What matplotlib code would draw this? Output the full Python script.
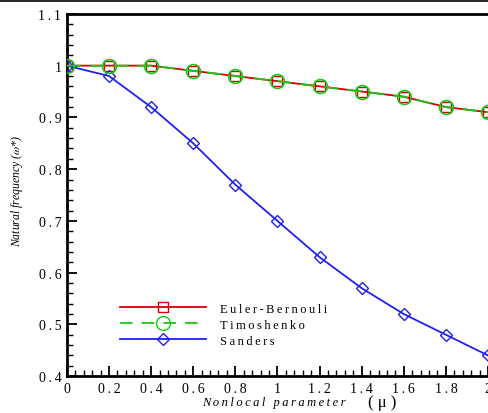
import numpy as np
import matplotlib
matplotlib.use('Agg')
import matplotlib.pyplot as plt
from matplotlib.ticker import MultipleLocator, FuncFormatter
from matplotlib.lines import Line2D

plt.rcParams['font.family'] = ['Liberation Serif', 'DejaVu Serif']
plt.rcParams['mathtext.fontset'] = 'stix'

# data
mu = [0, 0.2, 0.4, 0.6, 0.8, 1.0, 1.2, 1.4, 1.6, 1.8, 2.0]
euler = [1.0, 1.0, 1.0, 0.99, 0.98, 0.97, 0.96, 0.95, 0.94, 0.92, 0.91]
timo = [1.0, 1.0, 1.0, 0.99, 0.98, 0.97, 0.96, 0.95, 0.94, 0.92, 0.91]
sanders = [1.0, 0.98, 0.92, 0.85, 0.77, 0.70, 0.63, 0.57, 0.52, 0.48, 0.44]
labels = ["Euler-Bernouli", "Timoshenko", "Sanders"]


def spaced(s):
    return "\u2009".join(s)


fig = plt.figure(figsize=(4.88, 4.14), dpi=100)
ax = fig.add_axes([0.137, 0.089, 0.863, 0.875])

ax.plot(mu, euler, color='#d40000', lw=1.3, marker='s', ms=7,
        mfc='none', mec='#d40000', mew=1.0, zorder=3)
ax.plot(mu, timo, color='#18c818', lw=1.3, ls=(0, (8, 5)), marker='o',
        ms=10, mfc='none', mec='#18c818', mew=1.2, zorder=4)
ax.plot(mu, sanders, color='#2020f0', lw=1.3, marker='D', ms=6.5,
        mfc='none', mec='#2020f0', mew=1.0, zorder=3)

ax.set_xlim(0, 2)
ax.set_ylim(0.4, 1.1)
ax.xaxis.set_major_locator(MultipleLocator(0.2))
ax.xaxis.set_minor_locator(MultipleLocator(0.04))
ax.yaxis.set_major_locator(MultipleLocator(0.1))
ax.yaxis.set_minor_locator(MultipleLocator(0.02))

fmt = FuncFormatter(lambda v, p: spaced(f"{v:g}"))
ax.xaxis.set_major_formatter(fmt)
ax.yaxis.set_major_formatter(fmt)

ax.tick_params(which='both', direction='in', top=False, right=False,
               labelsize=10, width=1.3)
ax.tick_params(which='major', length=7, pad=4)
ax.tick_params(which='minor', length=4, width=1.0)
for side in ['left', 'bottom', 'top']:
    ax.spines[side].set_linewidth(2.0)
ax.spines['right'].set_visible(False)

# axis titles
fig.text(0.561, 0.012, spaced("Nonlocal parameter"), style='italic',
         fontsize=9, ha='center', va='bottom')
fig.text(0.754, 0.008, "( \u03bc )", fontsize=12, ha='left', va='bottom')
fig.text(0.035, 0.54, r"Natural frequency ($\omega$*)", style='italic',
         fontsize=8.5, rotation=90, ha='center', va='center')

# frame line across the top
fig.add_artist(Line2D([0, 1], [0.995, 0.995], color='black', lw=1.2,
                      transform=fig.transFigure))

handles = [
    Line2D([], [], color='#d40000', lw=1.3, marker='s', ms=7,
           mfc='none', mec='#d40000'),
    Line2D([], [], color='#18c818', lw=1.3, ls=(0, (7, 5)), marker='o',
           ms=10, mfc='none', mec='#18c818'),
    Line2D([], [], color='#2020f0', lw=1.3, marker='D', ms=6.5,
           mfc='none', mec='#2020f0'),
]
ax.legend(handles, [spaced(s) for s in labels], loc='lower left',
          bbox_to_anchor=(0.10, 0.05), frameon=False, fontsize=9,
          handlelength=6.9, handletextpad=1.05, labelspacing=0.32)

fig.savefig('out.png', dpi=100)
